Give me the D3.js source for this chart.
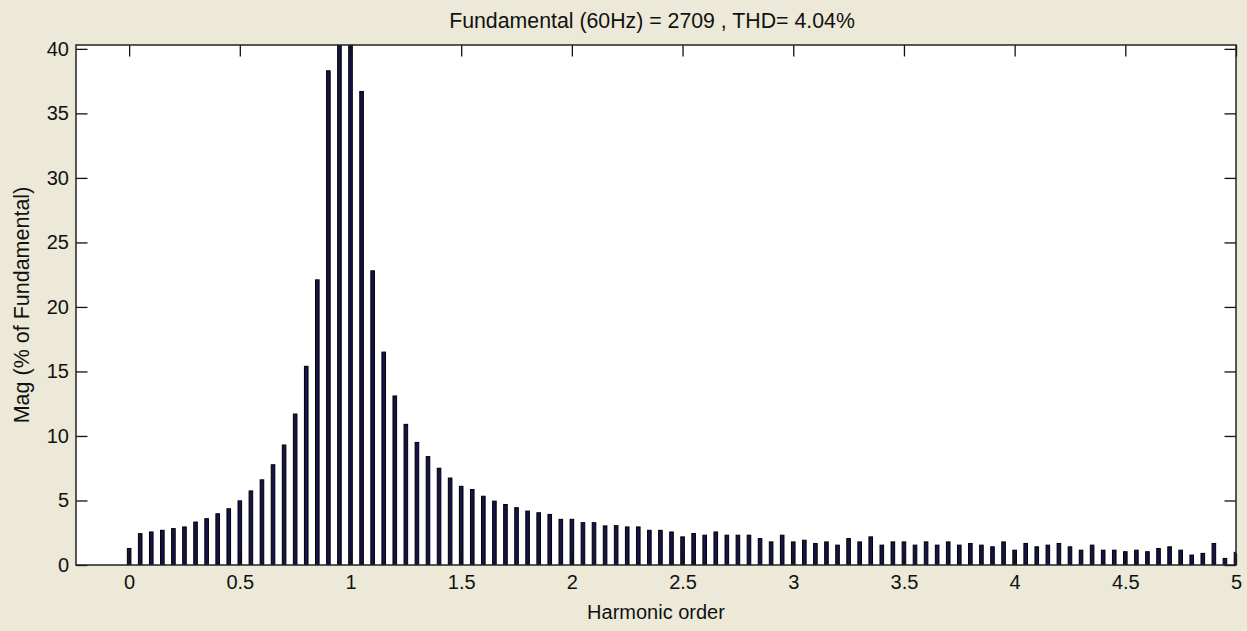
<!DOCTYPE html>
<html>
<head>
<meta charset="utf-8">
<script src="https://cdn.jsdelivr.net/npm/d3@7/dist/d3.min.js"></script>
<style>
  html, body { margin: 0; padding: 0; background: #ECE9D8; }
  svg { display: block; }
  text { font-family: "Liberation Sans", Arial, sans-serif; fill: #111; }
</style>
</head>
<body>
<svg id="chart" width="1247" height="631"></svg>
<script>
// Harmonic orders (categories)
const harmonicOrders = [
  0, 0.05, 0.1, 0.15, 0.2, 0.25, 0.3, 0.35, 0.4, 0.45,
  0.5, 0.55, 0.6, 0.65, 0.7, 0.75, 0.8, 0.85, 0.9, 0.95,
  1, 1.05, 1.1, 1.15, 1.2, 1.25, 1.3, 1.35, 1.4, 1.45,
  1.5, 1.55, 1.6, 1.65, 1.7, 1.75, 1.8, 1.85, 1.9, 1.95,
  2, 2.05, 2.1, 2.15, 2.2, 2.25, 2.3, 2.35, 2.4, 2.45,
  2.5, 2.55, 2.6, 2.65, 2.7, 2.75, 2.8, 2.85, 2.9, 2.95,
  3, 3.05, 3.1, 3.15, 3.2, 3.25, 3.3, 3.35, 3.4, 3.45,
  3.5, 3.55, 3.6, 3.65, 3.7, 3.75, 3.8, 3.85, 3.9, 3.95,
  4, 4.05, 4.1, 4.15, 4.2, 4.25, 4.3, 4.35, 4.4, 4.45,
  4.5, 4.55, 4.6, 4.65, 4.7, 4.75, 4.8, 4.85, 4.9, 4.95,
  5
];
// Magnitude (% of fundamental)
const magnitudes = [
  1.28, 2.43, 2.56, 2.69, 2.82, 2.95, 3.33, 3.59, 3.97, 4.36,
  4.97, 5.74, 6.6, 7.77, 9.3, 11.7, 15.4, 22.1, 38.3, 60,
  100, 36.7, 22.8, 16.5, 13.1, 10.9, 9.5, 8.4, 7.5, 6.74,
  6.1, 5.85, 5.33, 4.95, 4.69, 4.44, 4.18, 4.05, 3.92, 3.54,
  3.54, 3.28, 3.28, 3.03, 3.05, 2.95, 2.95, 2.69, 2.69, 2.56,
  2.18, 2.44, 2.31, 2.56, 2.31, 2.31, 2.31, 2.05, 1.79, 2.31,
  1.79, 1.92, 1.67, 1.79, 1.54, 2.05, 1.79, 2.18, 1.54, 1.79,
  1.79, 1.54, 1.79, 1.54, 1.79, 1.54, 1.67, 1.54, 1.41, 1.79,
  1.15, 1.67, 1.41, 1.54, 1.67, 1.41, 1.15, 1.54, 1.15, 1.15,
  1.03, 1.15, 1.03, 1.28, 1.41, 1.15, 0.77, 0.9, 1.67, 0.51,
  0.98
];
const xTicks = [0, 0.5, 1, 1.5, 2, 2.5, 3, 3.5, 4, 4.5, 5];
const xTickLabels = ["0", "0.5", "1", "1.5", "2", "2.5", "3", "3.5", "4", "4.5", "5"];
const yTicks = [0, 5, 10, 15, 20, 25, 30, 35, 40];
const yTickLabels = ["0", "5", "10", "15", "20", "25", "30", "35", "40"];
const titleText = "Fundamental (60Hz) = 2709 , THD= 4.04%";
const xLabelText = "Harmonic order";
const yLabelText = "Mag (% of Fundamental)";

const svg = d3.select("#chart");
const L = 76, R = 1236, T = 45, B = 565;
const x = d3.scaleLinear().domain([-0.24, 5]).range([L, R]);
const y = d3.scaleLinear().domain([0, 40.3]).range([B, T]);
const tickLen = 11.5;

// plot background
svg.append("rect").attr("x", L).attr("y", T).attr("width", R - L).attr("height", B - T).attr("fill", "#fff");

svg.append("clipPath").attr("id", "clip")
  .append("rect").attr("x", L).attr("y", T).attr("width", R - L).attr("height", B - T);

const barW = 3.6;
svg.append("g").attr("clip-path", "url(#clip)")
  .selectAll("rect").data(harmonicOrders.map((h, i) => ({h, v: magnitudes[i]})))
  .join("rect")
  .attr("x", d => x(d.h) - barW / 2)
  .attr("y", d => y(d.v))
  .attr("width", barW)
  .attr("height", d => y(0) - y(d.v))
  .attr("fill", "#14144a")
  .attr("stroke", "#000")
  .attr("stroke-width", 1);

// axes with inward ticks
const xAxisB = d3.axisBottom(x).tickValues(xTicks).tickFormat((d, i) => xTickLabels[i]).tickSizeInner(-tickLen).tickSizeOuter(0).tickPadding(10);
const xAxisT = d3.axisTop(x).tickValues(xTicks).tickFormat("").tickSizeInner(-tickLen).tickSizeOuter(0);
const yAxisL = d3.axisLeft(y).tickValues(yTicks).tickFormat((d, i) => yTickLabels[i]).tickSizeInner(-tickLen).tickSizeOuter(0).tickPadding(7);
const yAxisR = d3.axisRight(y).tickValues(yTicks).tickFormat("").tickSizeInner(-tickLen).tickSizeOuter(0);

function style(g) {
  g.select(".domain").remove();
  g.selectAll(".tick line").attr("stroke", "#111").attr("stroke-width", 1.3);
  g.selectAll(".tick text").attr("font-size", 20).attr("fill", "#222")
    .attr("font-family", "'Liberation Sans', Arial, sans-serif");
}
svg.append("g").attr("transform", `translate(0,${B})`).call(xAxisB).call(style);
svg.append("g").attr("transform", `translate(0,${T})`).call(xAxisT).call(style);
svg.append("g").attr("transform", `translate(${L},0)`).call(yAxisL).call(style);
svg.append("g").attr("transform", `translate(${R},0)`).call(yAxisR).call(style);

// box
svg.append("rect").attr("x", L).attr("y", T).attr("width", R - L).attr("height", B - T)
  .attr("fill", "none").attr("stroke", "#222").attr("stroke-width", 1.5);

// texts
svg.append("text").attr("x", 652).attr("y", 28).attr("text-anchor", "middle")
  .attr("font-size", 21.3).attr("fill", "#222").text(titleText);
svg.append("text").attr("x", (L + R) / 2).attr("y", 619).attr("text-anchor", "middle")
  .attr("font-size", 20).attr("fill", "#222").text(xLabelText);
svg.append("text").attr("transform", `translate(29,${(T + B) / 2}) rotate(-90)`).attr("text-anchor", "middle")
  .attr("font-size", 21.5).attr("fill", "#222").text(yLabelText);
</script>
</body>
</html>
